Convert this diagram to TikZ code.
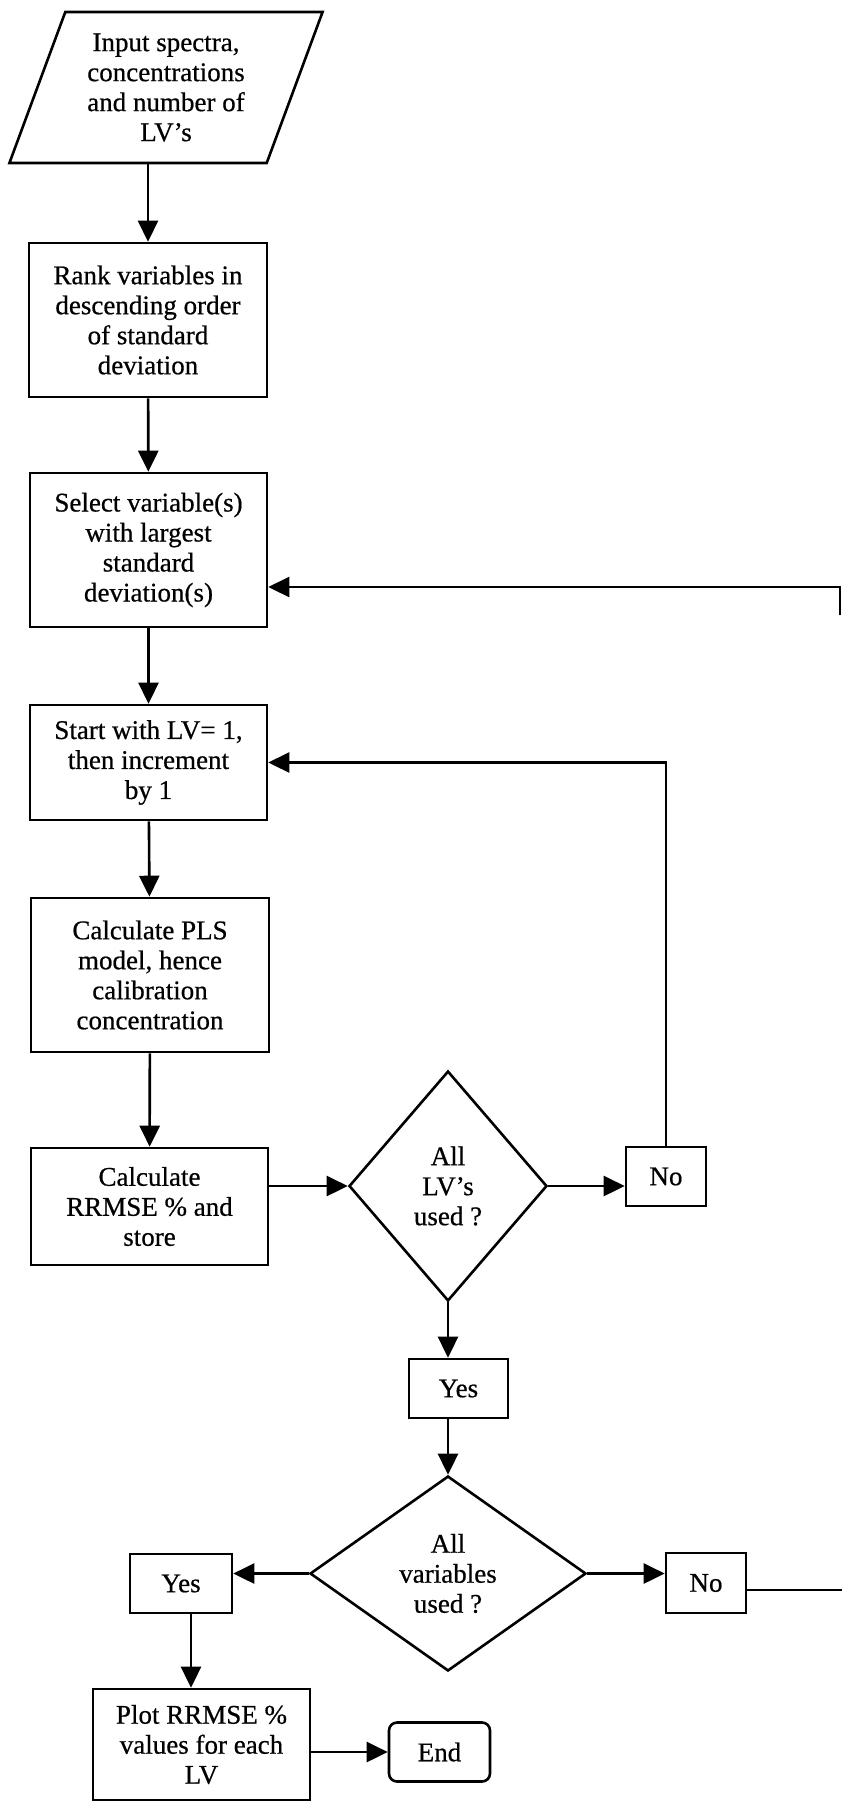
\documentclass[tikz,border=0pt]{standalone}
\usepackage{fontspec}
\setmainfont{Liberation Serif}[FakeBold=0.6]
\usepackage{tikz}
\usetikzlibrary{arrows.meta, positioning, shapes.geometric}

\begin{document}
\begin{tikzpicture}[
    x=1pt, y=-1pt,
    font=\fontsize{27}{30}\selectfont,
    line width=2.6pt,
    box/.style={draw, rectangle, inner sep=0pt, align=center},
    inbox/.style={draw, trapezium, trapezium left angle=68, trapezium right angle=112,
                  trapezium stretches=true, inner sep=0pt, align=center},
    decision/.style={draw, diamond, inner sep=0pt, align=center},
    endbox/.style={box, rounded corners=8pt},
    arr/.style={-{Triangle[length=21pt, width=20pt]}},
    plain/.style={-}
]
\useasboundingbox (0,0) rectangle (842,1804);

%% ---- main column -----------------------------------------------
\node[inbox, minimum width=314pt, minimum height=151pt] (input) at (166,87.5)
    {Input spectra,\\concentrations\\and number of\\LV’s};
\node[box, minimum width=238pt, minimum height=154pt] (rank)   at (148,320)
    {Rank variables in\\descending order\\of standard\\deviation};
\node[box, minimum width=237pt, minimum height=154pt] (select) at (148.5,550)
    {Select variable(s)\\with largest\\standard\\deviation(s)};
\node[box, minimum width=237pt, minimum height=115pt] (start)  at (148.5,762.5)
    {Start with LV= 1,\\then increment\\by 1};
\node[box, minimum width=238pt, minimum height=154pt] (pls)    at (150,975)
    {Calculate PLS\\model, hence\\calibration\\concentration};
\node[box, minimum width=237pt, minimum height=117pt] (rrmse)  at (149.5,1206.5)
    {Calculate\\RRMSE \% and\\store};

\draw[arr] (rank.north |- input.south) -- (rank.north);
\draw[arr] (rank)   -- (select);
\draw[arr] (select) -- (start);
\draw[arr] (start)  -- (pls);
\draw[arr] (pls)    -- (rrmse);

%% ---- LV loop ---------------------------------------------------
\node[decision, minimum width=198pt, minimum height=230pt] (lvtest) at (448,1186)
    {All\\LV’s\\used ?};
\node[box, minimum width=80pt, minimum height=59pt] (lvno)  at (666,1176.5) {No};
\node[box, minimum width=99pt, minimum height=59pt] (lvyes) at (458.5,1388.5) {Yes};

\draw[arr] (rrmse.east |- lvtest.west) -- (lvtest.west);
\draw[arr] (lvtest.east) -- (lvtest.east -| lvno.west);
\draw[arr] (lvno.north) |- (start.east);
\draw[arr] (lvtest.south) -- (lvtest.south |- lvyes.north);

%% ---- variable loop ---------------------------------------------
\node[decision, minimum width=276pt, minimum height=195pt] (vartest) at (448,1573.5)
    {All\\variables\\used ?};
\node[box, minimum width=102pt, minimum height=59pt] (varyes) at (181,1583.5) {Yes};
\node[box, minimum width=80pt, minimum height=60pt]  (varno)  at (706,1583) {No};

\draw[arr] (lvyes.south -| vartest.north) -- (vartest.north);
\draw[arr] (vartest.west) -- (vartest.west -| varyes.east);
\draw[arr] (vartest.east) -- (vartest.east -| varno.west);

\coordinate (edgelow)  at (842,1590);
\coordinate (edgestub) at (840,615);
\coordinate (edgetop)  at (840,587);
\draw[plain] (varno.east |- edgelow) -- (edgelow);
\draw[arr] (edgestub) -- (edgetop) -- (select.east |- edgetop);

%% ---- output ----------------------------------------------------
\node[box, minimum width=217pt, minimum height=111pt] (plot) at (201.5,1744.5)
    {Plot RRMSE \%\\values for each\\LV};
\node[endbox, minimum width=101pt, minimum height=59pt] (end) at (439.5,1752) {End};

\draw[arr] ([xshift=10pt]varyes.south) -- ([xshift=10pt]varyes.south |- plot.north);
\draw[arr] (plot.east |- end.west) -- (end.west);

\end{tikzpicture}
\end{document}
